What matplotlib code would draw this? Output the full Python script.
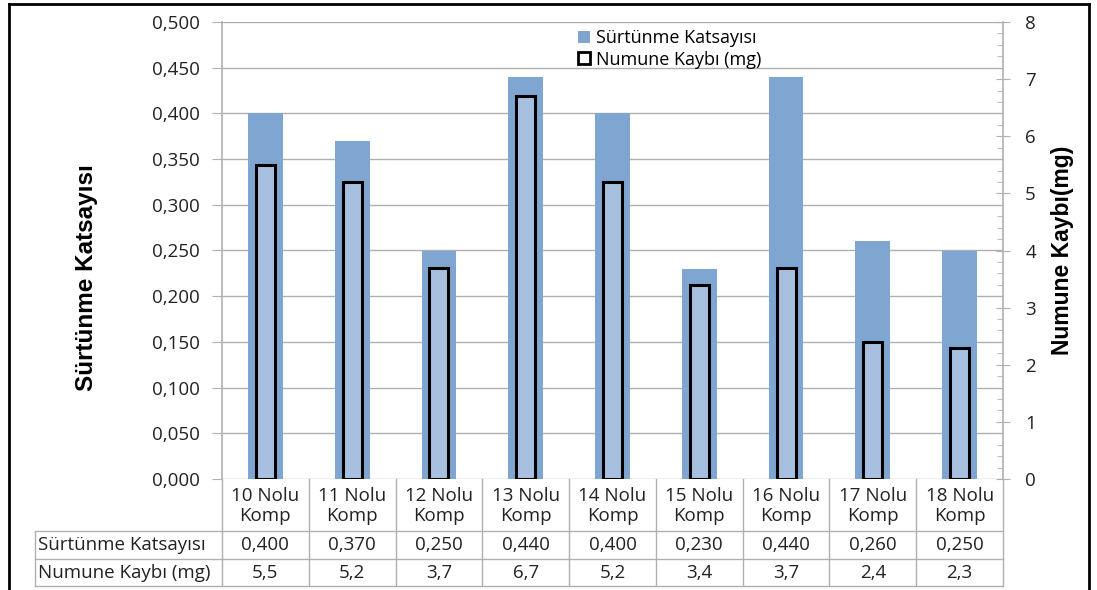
import matplotlib
matplotlib.use("Agg")
import matplotlib.pyplot as plt
from matplotlib.patches import Patch
from matplotlib.lines import Line2D
from matplotlib.transforms import blended_transform_factory
from matplotlib.ticker import MultipleLocator, FuncFormatter

# Data
categories = ["10 Nolu\nKomp", "11 Nolu\nKomp", "12 Nolu\nKomp", "13 Nolu\nKomp",
              "14 Nolu\nKomp", "15 Nolu\nKomp", "16 Nolu\nKomp", "17 Nolu\nKomp",
              "18 Nolu\nKomp"]
surtunme = [0.400, 0.370, 0.250, 0.440, 0.400, 0.230, 0.440, 0.260, 0.250]
numune = [5.5, 5.2, 3.7, 6.7, 5.2, 3.4, 3.7, 2.4, 2.3]
series_names = ["Sürtünme Katsayısı", "Numune Kaybı (mg)"]
left_title = "Sürtünme Katsayısı"
right_title = "Numune Kaybı(mg)"

W, H = 1097, 590
fig = plt.figure(figsize=(W / 100, H / 100), dpi=100)
font = ["Open Sans", "DejaVu Sans"]
title_font = ["Liberation Sans Narrow", "Liberation Sans", "DejaVu Sans"]
plt.rcParams["font.family"] = font

ax_l, ax_r, ax_t, ax_b = 222, 1003, 22, 479
ax = fig.add_axes([ax_l / W, 1 - ax_b / H, (ax_r - ax_l) / W, (ax_b - ax_t) / H])
ax2 = ax.twinx()

grid_c = "#b0b0b0"
blue = "#7fa5d1"
inner = "#a8c0e0"
txt_c = "#222222"
fs = 13.5

x = list(range(len(categories)))
ax.bar(x, surtunme, width=0.40, color=blue, zorder=2)
ax2.bar(x, numune, width=0.22, color=inner, edgecolor="black", linewidth=2.2, zorder=3)

ax.set_xlim(-0.5, len(categories) - 0.5)
ax.set_ylim(0, 0.5)
ax2.set_ylim(0, 8)
ax.yaxis.set_major_locator(MultipleLocator(0.05))
ax.yaxis.set_major_formatter(FuncFormatter(lambda v, p: f"{v:.3f}".replace(".", ",")))
ax2.yaxis.set_major_locator(MultipleLocator(1))
ax2.yaxis.set_minor_locator(MultipleLocator(0.2))
ax.set_xticks([])
ax.grid(axis="y", color=grid_c, linewidth=1, zorder=0)
ax.set_axisbelow(True)

for a in (ax, ax2):
    for s in ("top", "bottom"):
        a.spines[s].set_visible(False)
ax.spines["right"].set_visible(False)
ax2.spines["left"].set_visible(False)
ax.spines["left"].set_color(grid_c)
ax2.spines["right"].set_color(grid_c)
ax.spines["left"].set_linewidth(1.2)
ax2.spines["right"].set_linewidth(1.2)

ax.tick_params(axis="y", direction="out", length=7, color=grid_c, pad=9,
               labelsize=fs, labelcolor=txt_c)
ax2.tick_params(axis="y", which="major", direction="inout", length=10, color=grid_c,
                pad=11, labelsize=fs, labelcolor=txt_c)
ax2.tick_params(axis="y", which="minor", direction="in", length=4, color=grid_c)

# Axis titles
fig.text(86 / W, 1 - 278 / H, left_title, rotation=90, ha="center", va="center",
         fontsize=17.5, fontweight="bold", family=title_font, color="black")
fig.text(1063 / W, 1 - 250 / H, right_title, rotation=90, ha="center", va="center",
         fontsize=16.5, fontweight="bold", family=title_font, color="black")

# Legend
handles = [Patch(facecolor=blue, edgecolor="none"),
           Patch(facecolor="white", edgecolor="black", linewidth=2)]
fig.legend(handles, series_names, loc="upper left", bbox_to_anchor=(578 / W, 1 - 29 / H),
           frameon=False, fontsize=13, handlelength=0.65, handleheight=0.65,
           handletextpad=0.35, labelspacing=0.2, borderaxespad=0, borderpad=0)

# Data table below the plot
tr = blended_transform_factory(ax.transData, fig.transFigure)
fy = lambda py: 1 - py / H
row_y = [479, 531, 559, 586]
tbl_left = 35
xmin = -0.5

def fig_line(xs, ys, transform):
    fig.add_artist(Line2D(xs, ys, transform=transform, color=grid_c, linewidth=1, clip_on=False))

# horizontal rules
for py in row_y[1:]:
    fig_line([tbl_left / W, ax_r / W], [fy(py), fy(py)], fig.transFigure)
# vertical rules between categories
for i in range(len(categories) + 1):
    fig_line([xmin + i, xmin + i], [fy(row_y[0]), fy(row_y[-1])], tr)
fig_line([tbl_left / W, tbl_left / W], [fy(row_y[1]), fy(row_y[-1])], fig.transFigure)

for i, cat in enumerate(categories):
    fig.text(i, fy((row_y[0] + row_y[1]) / 2 + 1), cat, transform=tr, ha="center",
             va="center", fontsize=fs, color=txt_c, linespacing=1.2)
    fig.text(i, fy((row_y[1] + row_y[2]) / 2), f"{surtunme[i]:.3f}".replace(".", ","),
             transform=tr, ha="center", va="center", fontsize=fs, color=txt_c)
    fig.text(i, fy((row_y[2] + row_y[3]) / 2), f"{numune[i]:.1f}".replace(".", ","),
             transform=tr, ha="center", va="center", fontsize=fs, color=txt_c)

for r, name in enumerate(series_names):
    fig.text((tbl_left + 3) / W, fy((row_y[r + 1] + row_y[r + 2]) / 2), name,
             ha="left", va="center", fontsize=fs, color=txt_c)

# Outer frame
for xs, ys in [([9, 9], [4, 590]), ([9, 1089], [4, 4]), ([1089, 1089], [4, 590])]:
    fig.add_artist(Line2D([v / W for v in xs], [fy(v) for v in ys], transform=fig.transFigure,
                          color="black", linewidth=2, clip_on=False))

fig.savefig("out.png", dpi=100)
